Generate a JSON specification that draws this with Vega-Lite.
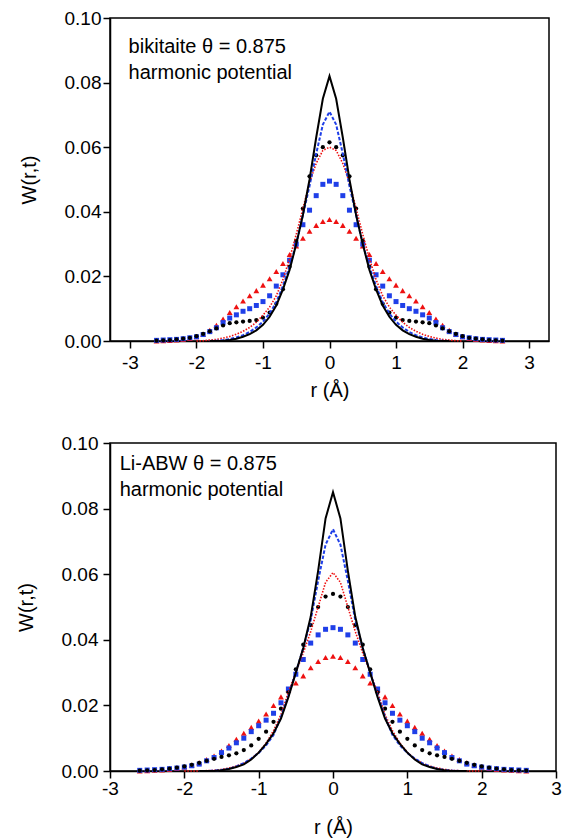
{
"$schema":"https://vega.github.io/schema/vega-lite/v6.json",
"padding":{"left":15,"top":8,"right":5,"bottom":2},
"spacing":32,
"columns":1,
"align":"none",
"config":{"font":"Liberation Sans","view":{"stroke":"black","strokeWidth":1.5},
"axis":{"domainColor":"black","tickColor":"black","labelColor":"black","titleColor":"black","grid":false,"labelFont":"Liberation Sans","titleFont":"Liberation Sans","labelFontSize":19,"titleFontSize":20,"titleFontWeight":"normal","domainWidth":1.5,"tickWidth":1.5,"labelFlush":false,"labelOverlap":false}},
"datasets":{
"tS":[{"r":-1.8,"w":0},{"r":-1.7,"w":0},{"r":-1.6,"w":0.0001},{"r":-1.5,"w":0.0003},{"r":-1.4,"w":0.0007},{"r":-1.3,"w":0.0013},{"r":-1.2,"w":0.0021},{"r":-1.1,"w":0.0033},{"r":-1.0,"w":0.005},{"r":-0.9,"w":0.0075},{"r":-0.8,"w":0.011},{"r":-0.7,"w":0.016},{"r":-0.6,"w":0.022},{"r":-0.5,"w":0.030},{"r":-0.4,"w":0.039},{"r":-0.3,"w":0.050},{"r":-0.2,"w":0.063},{"r":-0.1,"w":0.075},{"r":0,"w":0.082},{"r":0.1,"w":0.075},{"r":0.2,"w":0.063},{"r":0.3,"w":0.050},{"r":0.4,"w":0.039},{"r":0.5,"w":0.030},{"r":0.6,"w":0.022},{"r":0.7,"w":0.016},{"r":0.8,"w":0.011},{"r":0.9,"w":0.0075},{"r":1.0,"w":0.005},{"r":1.1,"w":0.0033},{"r":1.2,"w":0.0021},{"r":1.3,"w":0.0013},{"r":1.4,"w":0.0007},{"r":1.5,"w":0.0003},{"r":1.6,"w":0.0001},{"r":1.7,"w":0},{"r":1.8,"w":0}],
"tD":[{"r":-1.8,"w":0},{"r":-1.7,"w":0.0001},{"r":-1.6,"w":0.0003},{"r":-1.5,"w":0.0006},{"r":-1.4,"w":0.0011},{"r":-1.3,"w":0.0018},{"r":-1.2,"w":0.0028},{"r":-1.1,"w":0.0042},{"r":-1.0,"w":0.006},{"r":-0.9,"w":0.0085},{"r":-0.8,"w":0.012},{"r":-0.7,"w":0.017},{"r":-0.6,"w":0.023},{"r":-0.5,"w":0.030},{"r":-0.4,"w":0.039},{"r":-0.3,"w":0.048},{"r":-0.2,"w":0.058},{"r":-0.1,"w":0.067},{"r":0,"w":0.071},{"r":0.1,"w":0.067},{"r":0.2,"w":0.058},{"r":0.3,"w":0.048},{"r":0.4,"w":0.039},{"r":0.5,"w":0.030},{"r":0.6,"w":0.023},{"r":0.7,"w":0.017},{"r":0.8,"w":0.012},{"r":0.9,"w":0.0085},{"r":1.0,"w":0.006},{"r":1.1,"w":0.0042},{"r":1.2,"w":0.0028},{"r":1.3,"w":0.0018},{"r":1.4,"w":0.0011},{"r":1.5,"w":0.0006},{"r":1.6,"w":0.0003},{"r":1.7,"w":0.0001},{"r":1.8,"w":0}],
"tT":[{"r":-2.0,"w":0},{"r":-1.9,"w":0.0001},{"r":-1.8,"w":0.0003},{"r":-1.7,"w":0.0005},{"r":-1.6,"w":0.0009},{"r":-1.5,"w":0.0014},{"r":-1.4,"w":0.0021},{"r":-1.3,"w":0.003},{"r":-1.2,"w":0.0042},{"r":-1.1,"w":0.0058},{"r":-1.0,"w":0.008},{"r":-0.9,"w":0.0105},{"r":-0.8,"w":0.014},{"r":-0.7,"w":0.019},{"r":-0.6,"w":0.0255},{"r":-0.5,"w":0.033},{"r":-0.4,"w":0.041},{"r":-0.3,"w":0.049},{"r":-0.2,"w":0.055},{"r":-0.1,"w":0.059},{"r":0,"w":0.060},{"r":0.1,"w":0.059},{"r":0.2,"w":0.055},{"r":0.3,"w":0.049},{"r":0.4,"w":0.041},{"r":0.5,"w":0.033},{"r":0.6,"w":0.0255},{"r":0.7,"w":0.019},{"r":0.8,"w":0.014},{"r":0.9,"w":0.0105},{"r":1.0,"w":0.008},{"r":1.1,"w":0.0058},{"r":1.2,"w":0.0042},{"r":1.3,"w":0.003},{"r":1.4,"w":0.0021},{"r":1.5,"w":0.0014},{"r":1.6,"w":0.0009},{"r":1.7,"w":0.0005},{"r":1.8,"w":0.0003},{"r":1.9,"w":0.0001},{"r":2.0,"w":0}],
"tC":[{"r":-2.6,"w":0.0001},{"r":-2.5,"w":0.0002},{"r":-2.4,"w":0.0003},{"r":-2.3,"w":0.0005},{"r":-2.2,"w":0.0007},{"r":-2.1,"w":0.001},{"r":-2.0,"w":0.0015},{"r":-1.9,"w":0.0022},{"r":-1.8,"w":0.003},{"r":-1.7,"w":0.0039},{"r":-1.6,"w":0.0048},{"r":-1.5,"w":0.0055},{"r":-1.4,"w":0.0058},{"r":-1.3,"w":0.006},{"r":-1.2,"w":0.0062},{"r":-1.1,"w":0.0065},{"r":-1.0,"w":0.0072},{"r":-0.9,"w":0.0088},{"r":-0.8,"w":0.0115},{"r":-0.7,"w":0.016},{"r":-0.6,"w":0.023},{"r":-0.5,"w":0.031},{"r":-0.4,"w":0.041},{"r":-0.3,"w":0.051},{"r":-0.2,"w":0.0575},{"r":-0.1,"w":0.060},{"r":0,"w":0.0615},{"r":0.1,"w":0.060},{"r":0.2,"w":0.0575},{"r":0.3,"w":0.051},{"r":0.4,"w":0.041},{"r":0.5,"w":0.031},{"r":0.6,"w":0.023},{"r":0.7,"w":0.016},{"r":0.8,"w":0.0115},{"r":0.9,"w":0.0088},{"r":1.0,"w":0.0072},{"r":1.1,"w":0.0065},{"r":1.2,"w":0.0062},{"r":1.3,"w":0.006},{"r":1.4,"w":0.0058},{"r":1.5,"w":0.0055},{"r":1.6,"w":0.0048},{"r":1.7,"w":0.0039},{"r":1.8,"w":0.003},{"r":1.9,"w":0.0022},{"r":2.0,"w":0.0015},{"r":2.1,"w":0.001},{"r":2.2,"w":0.0007},{"r":2.3,"w":0.0005},{"r":2.4,"w":0.0003},{"r":2.5,"w":0.0002},{"r":2.6,"w":0.0001}],
"tQ":[{"r":-2.6,"w":0.0002},{"r":-2.5,"w":0.0003},{"r":-2.4,"w":0.0004},{"r":-2.3,"w":0.0005},{"r":-2.2,"w":0.0007},{"r":-2.1,"w":0.001},{"r":-2.0,"w":0.0013},{"r":-1.9,"w":0.002},{"r":-1.8,"w":0.0029},{"r":-1.7,"w":0.0041},{"r":-1.6,"w":0.0057},{"r":-1.5,"w":0.0071},{"r":-1.4,"w":0.0081},{"r":-1.3,"w":0.0092},{"r":-1.2,"w":0.010},{"r":-1.1,"w":0.011},{"r":-1.0,"w":0.0122},{"r":-0.9,"w":0.014},{"r":-0.8,"w":0.017},{"r":-0.7,"w":0.0205},{"r":-0.6,"w":0.025},{"r":-0.5,"w":0.030},{"r":-0.4,"w":0.036},{"r":-0.3,"w":0.0405},{"r":-0.2,"w":0.045},{"r":-0.1,"w":0.0485},{"r":0,"w":0.0495},{"r":0.1,"w":0.0485},{"r":0.2,"w":0.045},{"r":0.3,"w":0.0405},{"r":0.4,"w":0.036},{"r":0.5,"w":0.030},{"r":0.6,"w":0.025},{"r":0.7,"w":0.0205},{"r":0.8,"w":0.017},{"r":0.9,"w":0.014},{"r":1.0,"w":0.0122},{"r":1.1,"w":0.011},{"r":1.2,"w":0.010},{"r":1.3,"w":0.0092},{"r":1.4,"w":0.0081},{"r":1.5,"w":0.0071},{"r":1.6,"w":0.0057},{"r":1.7,"w":0.0041},{"r":1.8,"w":0.0029},{"r":1.9,"w":0.002},{"r":2.0,"w":0.0013},{"r":2.1,"w":0.001},{"r":2.2,"w":0.0007},{"r":2.3,"w":0.0005},{"r":2.4,"w":0.0004},{"r":2.5,"w":0.0003},{"r":2.6,"w":0.0002}],
"tR":[{"r":-2.6,"w":0},{"r":-2.5,"w":0.0001},{"r":-2.4,"w":0.0002},{"r":-2.3,"w":0.0003},{"r":-2.2,"w":0.0005},{"r":-2.1,"w":0.0008},{"r":-2.0,"w":0.0013},{"r":-1.9,"w":0.0021},{"r":-1.8,"w":0.0033},{"r":-1.7,"w":0.0049},{"r":-1.6,"w":0.0068},{"r":-1.5,"w":0.0088},{"r":-1.4,"w":0.0106},{"r":-1.3,"w":0.0124},{"r":-1.2,"w":0.014},{"r":-1.1,"w":0.0156},{"r":-1.0,"w":0.0173},{"r":-0.9,"w":0.0193},{"r":-0.8,"w":0.0215},{"r":-0.7,"w":0.024},{"r":-0.6,"w":0.0268},{"r":-0.5,"w":0.0294},{"r":-0.4,"w":0.0318},{"r":-0.3,"w":0.034},{"r":-0.2,"w":0.0358},{"r":-0.1,"w":0.037},{"r":0,"w":0.0376},{"r":0.1,"w":0.037},{"r":0.2,"w":0.0358},{"r":0.3,"w":0.034},{"r":0.4,"w":0.0318},{"r":0.5,"w":0.0294},{"r":0.6,"w":0.0268},{"r":0.7,"w":0.024},{"r":0.8,"w":0.0215},{"r":0.9,"w":0.0193},{"r":1.0,"w":0.0173},{"r":1.1,"w":0.0156},{"r":1.2,"w":0.014},{"r":1.3,"w":0.0124},{"r":1.4,"w":0.0106},{"r":1.5,"w":0.0088},{"r":1.6,"w":0.0068},{"r":1.7,"w":0.0049},{"r":1.8,"w":0.0033},{"r":1.9,"w":0.0021},{"r":2.0,"w":0.0013},{"r":2.1,"w":0.0008},{"r":2.2,"w":0.0005},{"r":2.3,"w":0.0003},{"r":2.4,"w":0.0002},{"r":2.5,"w":0.0001},{"r":2.6,"w":0}],
"bS":[{"r":-1.8,"w":0},{"r":-1.7,"w":0},{"r":-1.6,"w":0},{"r":-1.5,"w":0.0002},{"r":-1.4,"w":0.0006},{"r":-1.3,"w":0.0012},{"r":-1.2,"w":0.002},{"r":-1.1,"w":0.0035},{"r":-1.0,"w":0.0056},{"r":-0.9,"w":0.0083},{"r":-0.8,"w":0.0115},{"r":-0.7,"w":0.016},{"r":-0.6,"w":0.0225},{"r":-0.5,"w":0.030},{"r":-0.4,"w":0.0375},{"r":-0.3,"w":0.047},{"r":-0.2,"w":0.061},{"r":-0.1,"w":0.077},{"r":0,"w":0.085},{"r":0.1,"w":0.077},{"r":0.2,"w":0.061},{"r":0.3,"w":0.047},{"r":0.4,"w":0.0375},{"r":0.5,"w":0.030},{"r":0.6,"w":0.0225},{"r":0.7,"w":0.016},{"r":0.8,"w":0.0115},{"r":0.9,"w":0.0083},{"r":1.0,"w":0.0056},{"r":1.1,"w":0.0035},{"r":1.2,"w":0.002},{"r":1.3,"w":0.0012},{"r":1.4,"w":0.0006},{"r":1.5,"w":0.0002},{"r":1.6,"w":0},{"r":1.7,"w":0},{"r":1.8,"w":0}],
"bD":[{"r":-1.8,"w":0},{"r":-1.7,"w":0},{"r":-1.6,"w":0.0001},{"r":-1.5,"w":0.0003},{"r":-1.4,"w":0.0007},{"r":-1.3,"w":0.0014},{"r":-1.2,"w":0.0024},{"r":-1.1,"w":0.0038},{"r":-1.0,"w":0.0055},{"r":-0.9,"w":0.0078},{"r":-0.8,"w":0.011},{"r":-0.7,"w":0.0165},{"r":-0.6,"w":0.023},{"r":-0.5,"w":0.030},{"r":-0.4,"w":0.0375},{"r":-0.3,"w":0.046},{"r":-0.2,"w":0.058},{"r":-0.1,"w":0.069},{"r":0,"w":0.0737},{"r":0.1,"w":0.069},{"r":0.2,"w":0.058},{"r":0.3,"w":0.046},{"r":0.4,"w":0.0375},{"r":0.5,"w":0.030},{"r":0.6,"w":0.023},{"r":0.7,"w":0.0165},{"r":0.8,"w":0.011},{"r":0.9,"w":0.0078},{"r":1.0,"w":0.0055},{"r":1.1,"w":0.0038},{"r":1.2,"w":0.0024},{"r":1.3,"w":0.0014},{"r":1.4,"w":0.0007},{"r":1.5,"w":0.0003},{"r":1.6,"w":0.0001},{"r":1.7,"w":0},{"r":1.8,"w":0}],
"bT":[{"r":-2.0,"w":0},{"r":-1.9,"w":0},{"r":-1.8,"w":0},{"r":-1.7,"w":0.0001},{"r":-1.6,"w":0.0002},{"r":-1.5,"w":0.0005},{"r":-1.4,"w":0.0009},{"r":-1.3,"w":0.0015},{"r":-1.2,"w":0.0024},{"r":-1.1,"w":0.0037},{"r":-1.0,"w":0.0057},{"r":-0.9,"w":0.0085},{"r":-0.8,"w":0.0123},{"r":-0.7,"w":0.0172},{"r":-0.6,"w":0.024},{"r":-0.5,"w":0.030},{"r":-0.4,"w":0.036},{"r":-0.3,"w":0.0425},{"r":-0.2,"w":0.050},{"r":-0.1,"w":0.0575},{"r":0,"w":0.0605},{"r":0.1,"w":0.0575},{"r":0.2,"w":0.050},{"r":0.3,"w":0.0425},{"r":0.4,"w":0.036},{"r":0.5,"w":0.030},{"r":0.6,"w":0.024},{"r":0.7,"w":0.0172},{"r":0.8,"w":0.0123},{"r":0.9,"w":0.0085},{"r":1.0,"w":0.0057},{"r":1.1,"w":0.0037},{"r":1.2,"w":0.0024},{"r":1.3,"w":0.0015},{"r":1.4,"w":0.0009},{"r":1.5,"w":0.0005},{"r":1.6,"w":0.0002},{"r":1.7,"w":0.0001},{"r":1.8,"w":0},{"r":1.9,"w":0},{"r":2.0,"w":0}],
"bC":[{"r":-2.6,"w":0.0001},{"r":-2.5,"w":0.0002},{"r":-2.4,"w":0.0003},{"r":-2.3,"w":0.0005},{"r":-2.2,"w":0.0007},{"r":-2.1,"w":0.001},{"r":-2.0,"w":0.0014},{"r":-1.9,"w":0.0019},{"r":-1.8,"w":0.0025},{"r":-1.7,"w":0.0031},{"r":-1.6,"w":0.0037},{"r":-1.5,"w":0.0043},{"r":-1.4,"w":0.0048},{"r":-1.3,"w":0.0054},{"r":-1.2,"w":0.0064},{"r":-1.1,"w":0.0078},{"r":-1.0,"w":0.0098},{"r":-0.9,"w":0.012},{"r":-0.8,"w":0.015},{"r":-0.7,"w":0.019},{"r":-0.6,"w":0.024},{"r":-0.5,"w":0.031},{"r":-0.4,"w":0.0385},{"r":-0.3,"w":0.0445},{"r":-0.2,"w":0.050},{"r":-0.1,"w":0.0532},{"r":0,"w":0.054},{"r":0.1,"w":0.0532},{"r":0.2,"w":0.050},{"r":0.3,"w":0.0445},{"r":0.4,"w":0.0385},{"r":0.5,"w":0.031},{"r":0.6,"w":0.024},{"r":0.7,"w":0.019},{"r":0.8,"w":0.015},{"r":0.9,"w":0.012},{"r":1.0,"w":0.0098},{"r":1.1,"w":0.0078},{"r":1.2,"w":0.0064},{"r":1.3,"w":0.0054},{"r":1.4,"w":0.0048},{"r":1.5,"w":0.0043},{"r":1.6,"w":0.0037},{"r":1.7,"w":0.0031},{"r":1.8,"w":0.0025},{"r":1.9,"w":0.0019},{"r":2.0,"w":0.0014},{"r":2.1,"w":0.001},{"r":2.2,"w":0.0007},{"r":2.3,"w":0.0005},{"r":2.4,"w":0.0003},{"r":2.5,"w":0.0002},{"r":2.6,"w":0.0001}],
"bQ":[{"r":-2.6,"w":0.0002},{"r":-2.5,"w":0.0003},{"r":-2.4,"w":0.0004},{"r":-2.3,"w":0.0005},{"r":-2.2,"w":0.0007},{"r":-2.1,"w":0.0009},{"r":-2.0,"w":0.0012},{"r":-1.9,"w":0.0016},{"r":-1.8,"w":0.0021},{"r":-1.7,"w":0.0031},{"r":-1.6,"w":0.0041},{"r":-1.5,"w":0.0056},{"r":-1.4,"w":0.007},{"r":-1.3,"w":0.0086},{"r":-1.2,"w":0.010},{"r":-1.1,"w":0.012},{"r":-1.0,"w":0.0138},{"r":-0.9,"w":0.0155},{"r":-0.8,"w":0.0176},{"r":-0.7,"w":0.0208},{"r":-0.6,"w":0.025},{"r":-0.5,"w":0.0295},{"r":-0.4,"w":0.034},{"r":-0.3,"w":0.039},{"r":-0.2,"w":0.0415},{"r":-0.1,"w":0.0432},{"r":0,"w":0.0437},{"r":0.1,"w":0.0432},{"r":0.2,"w":0.0415},{"r":0.3,"w":0.039},{"r":0.4,"w":0.034},{"r":0.5,"w":0.0295},{"r":0.6,"w":0.025},{"r":0.7,"w":0.0208},{"r":0.8,"w":0.0176},{"r":0.9,"w":0.0155},{"r":1.0,"w":0.0138},{"r":1.1,"w":0.012},{"r":1.2,"w":0.010},{"r":1.3,"w":0.0086},{"r":1.4,"w":0.007},{"r":1.5,"w":0.0056},{"r":1.6,"w":0.0041},{"r":1.7,"w":0.0031},{"r":1.8,"w":0.0021},{"r":1.9,"w":0.0016},{"r":2.0,"w":0.0012},{"r":2.1,"w":0.0009},{"r":2.2,"w":0.0007},{"r":2.3,"w":0.0005},{"r":2.4,"w":0.0004},{"r":2.5,"w":0.0003},{"r":2.6,"w":0.0002}],
"bR":[{"r":-2.6,"w":0},{"r":-2.5,"w":0.0001},{"r":-2.4,"w":0.0002},{"r":-2.3,"w":0.0003},{"r":-2.2,"w":0.0005},{"r":-2.1,"w":0.0008},{"r":-2.0,"w":0.0012},{"r":-1.9,"w":0.0018},{"r":-1.8,"w":0.0025},{"r":-1.7,"w":0.0035},{"r":-1.6,"w":0.0046},{"r":-1.5,"w":0.0061},{"r":-1.4,"w":0.0078},{"r":-1.3,"w":0.0097},{"r":-1.2,"w":0.0115},{"r":-1.1,"w":0.0133},{"r":-1.0,"w":0.0152},{"r":-0.9,"w":0.0174},{"r":-0.8,"w":0.020},{"r":-0.7,"w":0.0226},{"r":-0.6,"w":0.0248},{"r":-0.5,"w":0.0268},{"r":-0.4,"w":0.029},{"r":-0.3,"w":0.0315},{"r":-0.2,"w":0.0334},{"r":-0.1,"w":0.0346},{"r":0,"w":0.035},{"r":0.1,"w":0.0346},{"r":0.2,"w":0.0334},{"r":0.3,"w":0.0315},{"r":0.4,"w":0.029},{"r":0.5,"w":0.0268},{"r":0.6,"w":0.0248},{"r":0.7,"w":0.0226},{"r":0.8,"w":0.020},{"r":0.9,"w":0.0174},{"r":1.0,"w":0.0152},{"r":1.1,"w":0.0133},{"r":1.2,"w":0.0115},{"r":1.3,"w":0.0097},{"r":1.4,"w":0.0078},{"r":1.5,"w":0.0061},{"r":1.6,"w":0.0046},{"r":1.7,"w":0.0035},{"r":1.8,"w":0.0025},{"r":1.9,"w":0.0018},{"r":2.0,"w":0.0012},{"r":2.1,"w":0.0008},{"r":2.2,"w":0.0005},{"r":2.3,"w":0.0003},{"r":2.4,"w":0.0002},{"r":2.5,"w":0.0001},{"r":2.6,"w":0}]
},
"concat":[
{"width":439,"height":323,
"layer":[
{"data":{"name":"tR"},"mark":{"type":"point","shape":"triangle-up","filled":true,"color":"#ee1111","opacity":1,"size":34},
"encoding":{
"x":{"field":"r","type":"quantitative","scale":{"domain":[-3.3,3.3],"nice":false},"axis":{"values":[-3,-2.5,-2,-1.5,-1,-0.5,0,0.5,1,1.5,2,2.5,3],"tickSize":{"condition":{"test":"datum.value % 1 === 0","value":7},"value":4},"labelPadding":5,"title":"r (Å)","titlePadding":8,"labelExpr":"datum.value % 1 !== 0 ? '' : (datum.value < 0 ? '-' + abs(datum.value) : '' + datum.value)"}},
"y":{"field":"w","type":"quantitative","scale":{"domain":[0,0.1],"nice":false,"zero":false},"axis":{"values":[0,0.01,0.02,0.03,0.04,0.05,0.06,0.07,0.08,0.09,0.1],"tickSize":{"condition":{"test":"round(datum.value*100) % 2 === 0","value":7},"value":4},"labelPadding":2,"title":"W(r,t)","titlePadding":25,"labelExpr":"round(datum.value*100) % 2 !== 0 ? '' : format(datum.value, '.2f')"}}}},
{"data":{"name":"tQ"},"mark":{"type":"point","shape":"square","filled":true,"color":"#1f3fe8","opacity":1,"size":25},
"encoding":{"x":{"field":"r","type":"quantitative"},"y":{"field":"w","type":"quantitative"}}},
{"data":{"name":"tC"},"mark":{"type":"point","shape":"circle","filled":true,"color":"#000000","opacity":1,"size":18},
"encoding":{"x":{"field":"r","type":"quantitative"},"y":{"field":"w","type":"quantitative"}}},
{"data":{"name":"tT"},"mark":{"type":"line","color":"#ee1111","strokeWidth":1.6,"strokeDash":[1.5,1.5]},
"encoding":{"x":{"field":"r","type":"quantitative"},"y":{"field":"w","type":"quantitative"}}},
{"data":{"name":"tD"},"mark":{"type":"line","color":"#1f3fe8","strokeWidth":2,"strokeDash":[3.5,1.8]},
"encoding":{"x":{"field":"r","type":"quantitative"},"y":{"field":"w","type":"quantitative"}}},
{"data":{"name":"tS"},"mark":{"type":"line","color":"#000000","strokeWidth":2},
"encoding":{"x":{"field":"r","type":"quantitative"},"y":{"field":"w","type":"quantitative"}}},
{"data":{"values":[{}]},"mark":{"type":"text","align":"left","baseline":"alphabetic","fontSize":20,"lineHeight":26,"font":"Liberation Sans","color":"black"},
"encoding":{"x":{"datum":-3.02,"type":"quantitative"},"y":{"datum":0.0892,"type":"quantitative"},"text":{"value":["bikitaite θ = 0.875","harmonic potential"]}}}
]},
{"width":446,"height":328,
"layer":[
{"data":{"name":"bR"},"mark":{"type":"point","shape":"triangle-up","filled":true,"color":"#ee1111","opacity":1,"size":34},
"encoding":{
"x":{"field":"r","type":"quantitative","scale":{"domain":[-3,3],"nice":false},"axis":{"values":[-3,-2.5,-2,-1.5,-1,-0.5,0,0.5,1,1.5,2,2.5,3],"tickSize":{"condition":{"test":"datum.value % 1 === 0","value":7},"value":4},"labelPadding":1,"title":"r (Å)","titlePadding":19,"labelExpr":"datum.value % 1 !== 0 ? '' : (datum.value < 0 ? '-' + abs(datum.value) : '' + datum.value)"}},
"y":{"field":"w","type":"quantitative","scale":{"domain":[0,0.1],"nice":false,"zero":false},"axis":{"values":[0,0.01,0.02,0.03,0.04,0.05,0.06,0.07,0.08,0.09,0.1],"tickSize":{"condition":{"test":"round(datum.value*100) % 2 === 0","value":7},"value":4},"labelPadding":5,"title":"W(r,t)","titlePadding":25,"labelExpr":"round(datum.value*100) % 2 !== 0 ? '' : format(datum.value, '.2f')"}}}},
{"data":{"name":"bQ"},"mark":{"type":"point","shape":"square","filled":true,"color":"#1f3fe8","opacity":1,"size":25},
"encoding":{"x":{"field":"r","type":"quantitative"},"y":{"field":"w","type":"quantitative"}}},
{"data":{"name":"bC"},"mark":{"type":"point","shape":"circle","filled":true,"color":"#000000","opacity":1,"size":18},
"encoding":{"x":{"field":"r","type":"quantitative"},"y":{"field":"w","type":"quantitative"}}},
{"data":{"name":"bT"},"mark":{"type":"line","color":"#ee1111","strokeWidth":1.6,"strokeDash":[1.5,1.5]},
"encoding":{"x":{"field":"r","type":"quantitative"},"y":{"field":"w","type":"quantitative"}}},
{"data":{"name":"bD"},"mark":{"type":"line","color":"#1f3fe8","strokeWidth":2,"strokeDash":[3.5,1.8]},
"encoding":{"x":{"field":"r","type":"quantitative"},"y":{"field":"w","type":"quantitative"}}},
{"data":{"name":"bS"},"mark":{"type":"line","color":"#000000","strokeWidth":2},
"encoding":{"x":{"field":"r","type":"quantitative"},"y":{"field":"w","type":"quantitative"}}},
{"data":{"values":[{}]},"mark":{"type":"text","align":"left","baseline":"alphabetic","fontSize":20,"lineHeight":26,"font":"Liberation Sans","color":"black"},
"encoding":{"x":{"datum":-2.87,"type":"quantitative"},"y":{"datum":0.0918,"type":"quantitative"},"text":{"value":["Li-ABW θ = 0.875","harmonic potential"]}}}
]}
]
}
